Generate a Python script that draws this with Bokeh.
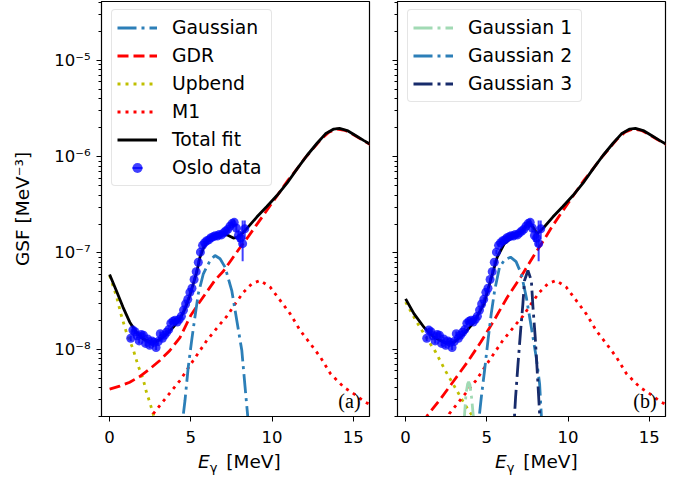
import numpy as np
from bokeh.plotting import figure
from bokeh.layouts import row, column
from bokeh.models import (ColumnDataSource, FixedTicker, CustomJSTickFormatter,
                          Legend, LegendItem, Label, Range1d, Div)
from bokeh.embed import file_html
from bokeh.resources import INLINE

# ---------------- data ----------------
OSLO_E = [1.30, 1.43, 1.56, 1.69, 1.82, 1.95, 2.08, 2.21, 2.34, 2.47, 2.60, 2.73,
          2.86, 2.99, 3.12, 3.25, 3.38, 3.51, 3.64, 3.77, 3.90, 4.03, 4.16, 4.29,
          4.42, 4.55, 4.68, 4.81, 4.94, 5.07, 5.20, 5.33, 5.46, 5.59, 5.72, 5.85,
          5.98, 6.11, 6.24, 6.37, 6.50, 6.63, 6.76, 6.89, 7.02, 7.15, 7.28, 7.41,
          7.54, 7.67, 7.80, 7.93, 8.06, 8.19, 8.32]
OSLO_GSF = [1.30e-8, 1.58e-8, 1.52e-8, 1.38e-8, 1.22e-8, 1.42e-8, 1.40e-8, 1.15e-8,
            1.28e-8, 1.10e-8, 1.22e-8, 1.18e-8, 1.04e-8, 1.20e-8, 1.45e-8, 1.30e-8,
            1.40e-8, 1.50e-8, 1.60e-8, 1.86e-8, 1.95e-8, 2.00e-8, 1.92e-8, 2.05e-8,
            2.20e-8, 2.55e-8, 2.95e-8, 3.30e-8, 3.90e-8, 4.30e-8, 5.30e-8, 6.40e-8,
            8.00e-8, 1.02e-7, 1.20e-7, 1.28e-7, 1.34e-7, 1.37e-7, 1.44e-7, 1.47e-7,
            1.51e-7, 1.50e-7, 1.56e-7, 1.54e-7, 1.62e-7, 1.69e-7, 1.76e-7, 1.90e-7,
            2.02e-7, 2.08e-7, 1.82e-7, 1.52e-7, 1.43e-7, 1.25e-7, 1.78e-7]
OSLO_ERR_LO = [0.08e-8, 0.09e-8, 0.09e-8, 0.08e-8, 0.07e-8, 0.08e-8, 0.08e-8, 0.07e-8,
               0.07e-8, 0.07e-8, 0.07e-8, 0.07e-8, 0.06e-8, 0.07e-8, 0.08e-8, 0.07e-8,
               0.08e-8, 0.08e-8, 0.09e-8, 0.10e-8, 0.10e-8, 0.11e-8, 0.10e-8, 0.11e-8,
               0.12e-8, 0.13e-8, 0.15e-8, 0.17e-8, 0.20e-8, 0.22e-8, 0.27e-8, 0.33e-8,
               0.41e-8, 0.52e-8, 0.62e-8, 0.66e-8, 0.70e-8, 0.72e-8, 0.76e-8, 0.78e-8,
               0.81e-8, 0.82e-8, 0.87e-8, 0.88e-8, 0.95e-8, 1.0e-8, 1.1e-8, 1.2e-8,
               1.4e-8, 1.6e-8, 1.8e-8, 2.2e-8, 2.6e-8, 4.3e-8, 4.0e-8]
OSLO_ERR_HI = [0.08e-8, 0.09e-8, 0.09e-8, 0.08e-8, 0.07e-8, 0.08e-8, 0.08e-8, 0.07e-8,
               0.07e-8, 0.07e-8, 0.07e-8, 0.07e-8, 0.06e-8, 0.07e-8, 0.08e-8, 0.07e-8,
               0.08e-8, 0.08e-8, 0.09e-8, 0.10e-8, 0.10e-8, 0.11e-8, 0.10e-8, 0.11e-8,
               0.12e-8, 0.13e-8, 0.15e-8, 0.17e-8, 0.20e-8, 0.22e-8, 0.27e-8, 0.33e-8,
               0.41e-8, 0.52e-8, 0.62e-8, 0.66e-8, 0.70e-8, 0.72e-8, 0.76e-8, 0.78e-8,
               0.81e-8, 0.82e-8, 0.87e-8, 0.88e-8, 0.95e-8, 1.0e-8, 1.1e-8, 1.2e-8,
               1.4e-8, 1.6e-8, 1.8e-8, 2.2e-8, 2.6e-8, 9.3e-8, 4.0e-8]

# panel (a) model components
TOTAL_A_E = [0.00, 0.41, 0.82, 1.24, 1.65, 2.06, 2.47, 2.80, 3.09, 3.50, 3.91, 4.33,
             4.64, 4.90, 5.15, 5.36, 5.56, 5.77, 6.08, 6.39, 6.70, 7.00, 7.31, 7.62,
             7.87, 8.14, 8.55, 9.06, 9.68, 10.30, 10.92, 11.54, 12.15, 12.77, 13.29,
             13.80, 14.15, 14.63, 15.14, 15.66, 16.10]
TOTAL_A = [5.97e-8, 4.07e-8, 2.74e-8, 1.91e-8, 1.50e-8, 1.28e-8, 1.20e-8, 1.19e-8,
           1.26e-8, 1.44e-8, 1.69e-8, 2.07e-8, 2.62e-8, 3.47e-8, 4.78e-8, 6.31e-8,
           9.03e-8, 1.12e-7, 1.37e-7, 1.49e-7, 1.57e-7, 1.58e-7, 1.52e-7, 1.43e-7,
           1.45e-7, 1.58e-7, 1.88e-7, 2.36e-7, 3.04e-7, 3.95e-7, 5.31e-7, 7.48e-7,
           1.03e-6, 1.38e-6, 1.73e-6, 1.94e-6, 1.97e-6, 1.87e-6, 1.66e-6, 1.47e-6,
           1.33e-6]
GDR_A_E = [0.0, 0.62, 1.24, 1.85, 2.47, 3.09, 3.71, 4.33, 5.0, 5.5, 6.0, 6.5, 7.0,
           7.5, 8.0, 8.5, 9.0, 9.5, 10.0, 10.5, 11.0, 11.5, 12.0, 12.5, 13.0, 13.5,
           14.0, 14.5, 15.0, 15.5, 16.1]
GDR_A = [3.85e-9, 4.13e-9, 4.54e-9, 5.20e-9, 6.25e-9, 7.64e-9, 9.70e-9, 1.32e-8,
         2.25e-8, 3.02e-8, 3.98e-8, 5.25e-8, 6.46e-8, 8.51e-8, 1.12e-7, 1.45e-7,
         1.91e-7, 2.51e-7, 3.31e-7, 4.37e-7, 5.75e-7, 7.33e-7, 9.55e-7, 1.20e-6,
         1.51e-6, 1.80e-6, 1.94e-6, 1.88e-6, 1.70e-6, 1.51e-6, 1.32e-6]
UPBEND_A_E = [0.00, 0.41, 0.72, 1.03, 1.44, 1.75, 2.06, 2.27, 2.47, 2.68, 2.85]
UPBEND_A = [5.83e-8, 3.61e-8, 2.24e-8, 1.50e-8, 1.01e-8, 6.78e-9, 4.92e-9, 3.57e-9,
            2.81e-9, 2.13e-9, 1.66e-9]
GAUSS_A_E = [4.40, 4.53, 4.64, 4.84, 5.05, 5.25, 5.46, 5.77, 6.18, 6.49, 6.80, 7.11,
             7.52, 7.83, 8.14, 8.34, 8.49, 8.60]
GAUSS_A = [1.0e-9, 2.05e-9, 2.93e-9, 6.50e-9, 1.23e-8, 2.15e-8, 3.77e-8, 6.08e-8,
           8.32e-8, 9.42e-8, 8.71e-8, 7.11e-8, 4.07e-8, 1.99e-8, 9.68e-9, 4.03e-9,
           2.13e-9, 1.26e-9]
M1_E = [2.50, 2.68, 3.09, 3.50, 4.33, 5.15, 5.98, 6.80, 7.21, 7.73, 8.24, 8.76, 9.27,
        9.89, 10.51, 11.12, 11.74, 12.36, 12.98, 13.60, 14.42, 15.04, 15.76, 16.10]
M1 = [1.78e-9, 2.13e-9, 2.60e-9, 3.17e-9, 4.73e-9, 7.64e-9, 1.23e-8, 1.82e-8, 2.19e-8,
      2.96e-8, 3.91e-8, 4.79e-8, 5.18e-8, 4.41e-8, 3.20e-8, 2.33e-8, 1.56e-8, 1.14e-8,
      8.26e-9, 5.55e-9, 4.03e-9, 3.44e-9, 2.81e-9, 2.63e-9]

# panel (b) model components
TOTAL_B_E = [0.00, 0.52, 1.13, 1.75, 2.36, 2.98, 3.59, 3.90, 4.21, 4.82, 5.23, 5.64,
             6.06, 6.57, 7.08, 7.35, 7.59, 7.86, 8.10, 8.52, 9.06, 9.68, 10.30, 10.92,
             11.54, 12.15, 12.77, 13.29, 13.80, 14.15, 14.63, 15.14, 15.66, 16.10]
TOTAL_B = [3.34e-8, 2.33e-8, 1.69e-8, 1.33e-8, 1.18e-8, 1.18e-8, 1.45e-8, 1.66e-8,
           1.91e-8, 2.96e-8, 5.18e-8, 9.04e-8, 1.24e-7, 1.46e-7, 1.64e-7, 1.86e-7,
           2.09e-7, 1.84e-7, 1.58e-7, 1.85e-7, 2.36e-7, 3.04e-7, 3.95e-7, 5.31e-7,
           7.48e-7, 1.03e-6, 1.38e-6, 1.73e-6, 1.94e-6, 1.97e-6, 1.87e-6, 1.66e-6,
           1.47e-6, 1.33e-6]
GDR_B_E = [1.00, 1.34, 2.15, 2.98, 3.80, 4.62, 5.44, 6.26, 7.08, 7.90, 8.62, 9.0, 9.5,
           10.0, 10.5, 11.0, 11.5, 12.0, 12.5, 13.0, 13.5, 14.0, 14.5, 15.0, 15.5, 16.1]
GDR_B = [1.70e-9, 2.05e-9, 3.05e-9, 4.73e-9, 7.33e-9, 1.18e-8, 1.99e-8, 3.47e-8,
         5.60e-8, 9.42e-8, 1.46e-7, 1.86e-7, 2.48e-7, 3.29e-7, 4.35e-7, 5.75e-7,
         7.33e-7, 9.55e-7, 1.20e-6, 1.51e-6, 1.80e-6, 1.94e-6, 1.88e-6, 1.70e-6,
         1.51e-6, 1.32e-6]
UPBEND_B_E = [0.00, 0.62, 1.24, 1.85, 2.47, 3.09, 3.63, 3.90, 4.14, 4.40]
UPBEND_B = [3.09e-8, 2.00e-8, 1.35e-8, 9.33e-9, 5.89e-9, 3.89e-9, 2.69e-9, 2.29e-9,
            2.00e-9, 1.66e-9]
GAUSS1_B_E = [3.50, 3.62, 3.72, 3.82, 3.88, 3.96, 4.06, 4.17, 4.28]
GAUSS1_B = [7.9e-10, 2.0e-9, 3.47e-9, 4.37e-9, 4.57e-9, 4.27e-9, 3.16e-9, 2.0e-9, 8.9e-10]
GAUSS2_B_E = [4.40, 4.55, 4.66, 4.86, 5.07, 5.27, 5.48, 5.78, 6.10, 6.46, 6.80, 7.12,
              7.43, 7.74, 8.04, 8.25, 8.35, 8.45]
GAUSS2_B = [1.0e-9, 2.13e-9, 3.17e-9, 6.01e-9, 1.23e-8, 2.33e-8, 4.07e-8, 7.11e-8,
            8.51e-8, 9.04e-8, 8.13e-8, 6.08e-8, 3.47e-8, 1.69e-8, 8.26e-9, 4.37e-9,
            2.13e-9, 1.0e-9]
GAUSS3_B_E = [6.65, 6.71, 6.77, 6.92, 7.08, 7.22, 7.32, 7.53, 7.74, 7.84, 7.98, 8.10,
              8.25, 8.32]
GAUSS3_B = [1.12e-9, 2.13e-9, 3.17e-9, 7.05e-9, 1.56e-8, 2.96e-8, 5.18e-8, 6.58e-8,
            5.18e-8, 2.73e-8, 1.33e-8, 6.01e-9, 2.13e-9, 1.12e-9]

X_TICKS = [0, 5, 10, 15]
Y_MAJOR = [1e-9, 1e-8, 1e-7, 1e-6, 1e-5, 1e-4]
Y_MINOR = [m * d for d in [1e-9, 1e-8, 1e-7, 1e-6, 1e-5] for m in range(2, 10)]

# ---------------- styling ----------------
FONT = "DejaVu Sans"
FW, FH = 268, 415
X_LO, X_HI = -0.5, 16.0
Y_LO, Y_HI = 2.0e-9, 4.10e-5
LW = 2.8

sup_js = """
const sup = {"-":"\u207b","0":"\u2070","1":"\u00b9","2":"\u00b2","3":"\u00b3","4":"\u2074",
             "5":"\u2075","6":"\u2076","7":"\u2077","8":"\u2078","9":"\u2079"};
const e = Math.round(Math.log10(tick));
return "10" + String(e).split("").map(c => sup[c]).join("");
"""


def make_fig(border_left, border_right, labels):
    p = figure(frame_width=FW, frame_height=FH, y_axis_type="log",
               x_range=Range1d(X_LO, X_HI), y_range=Range1d(Y_LO, Y_HI),
               output_backend="svg", toolbar_location=None,
               min_border_left=border_left, min_border_right=border_right,
               min_border_top=1, min_border_bottom=34)
    p.grid.visible = False
    p.outline_line_color = "black"
    p.outline_line_width = 1.2
    p.outline_line_alpha = 1.0
    p.background_fill_color = "white"
    p.border_fill_color = "white"

    xa = p.xaxis[0]
    xa.ticker = FixedTicker(ticks=X_TICKS)
    xa.major_tick_out = 5
    xa.major_tick_in = 0
    xa.minor_tick_line_color = None
    xa.major_label_text_font = FONT
    xa.major_label_text_font_size = "16.5px"
    xa.major_label_text_color = "black"
    xa.major_label_standoff = 9
    xa.axis_line_color = "black"
    xa.major_tick_line_color = "black"

    ya = p.yaxis[0]
    ya.ticker = FixedTicker(ticks=Y_MAJOR, minor_ticks=Y_MINOR)
    ya.major_tick_out = 5
    ya.major_tick_in = 0
    ya.minor_tick_out = 3
    ya.minor_tick_in = 0
    ya.major_tick_line_color = "black"
    ya.minor_tick_line_color = "black"
    ya.axis_line_color = "black"
    ya.major_label_text_font = FONT
    ya.major_label_text_font_size = "16.5px"
    ya.major_label_text_color = "black"
    ya.major_label_standoff = 6
    if labels:
        ya.formatter = CustomJSTickFormatter(code=sup_js)
        ya.axis_label = "GSF [MeV\u207b\u00b3]"
        ya.axis_label_text_font = FONT
        ya.axis_label_text_font_size = "18.5px"
        ya.axis_label_text_font_style = "normal"
        ya.axis_label_text_color = "black"
        ya.axis_label_standoff = 18
    else:
        ya.formatter = CustomJSTickFormatter(code='return "";')
        ya.major_label_standoff = 0
    return p


def add_data(p):
    src = ColumnDataSource(dict(
        x=OSLO_E, y=OSLO_GSF,
        lo=[v - e for v, e in zip(OSLO_GSF, OSLO_ERR_LO)],
        hi=[v + e for v, e in zip(OSLO_GSF, OSLO_ERR_HI)]))
    p.segment(x0="x", y0="lo", x1="x", y1="hi", source=src,
              line_color="blue", line_alpha=0.75, line_width=2)
    r = p.scatter("x", "y", source=src, marker="circle", size=9,
                  fill_color="blue", fill_alpha=0.75, line_color=None)
    # zero-size vertical dash: only its legend glyph (the error-bar symbol) shows
    bar = p.scatter("x", "y", source=src, marker="dash", angle=np.pi / 2, size=0,
                    line_color="blue", line_alpha=0.75, line_width=2)
    return [bar, r]


def make_legend(items, loc, label_width):
    leg = Legend(items=items, location=loc)
    leg.label_text_font = FONT
    leg.label_text_font_size = "18.8px"
    leg.label_text_color = "black"
    leg.glyph_width = 40
    leg.glyph_height = 25
    leg.label_height = 25
    leg.label_width = label_width
    leg.label_standoff = 15
    leg.padding = 5
    leg.spacing = 3
    leg.margin = 0
    leg.border_line_color = "#cccccc"
    leg.border_line_width = 1
    leg.background_fill_color = "white"
    leg.background_fill_alpha = 0.8
    if "border_radius" in Legend.properties():
        leg.border_radius = 4
    return leg


# ---------------- panel (a) ----------------
p1 = make_fig(101, 5, True)
r_up = p1.line(UPBEND_A_E, UPBEND_A, line_color="#bfbf00", line_width=LW, line_dash="3 5")
r_m1 = p1.line(M1_E, M1, line_color="red", line_width=LW, line_dash="3 5")
r_gdr = p1.line(GDR_A_E, GDR_A, line_color="red", line_width=LW, line_dash="11 5")
r_g = p1.line(GAUSS_A_E, GAUSS_A, line_color="#2c7fb8", line_width=LW, line_dash="19 5 3 5")
r_tot = p1.line(TOTAL_A_E, TOTAL_A, line_color="black", line_width=LW)
r_dat = add_data(p1)
p1.add_layout(make_legend([
    LegendItem(label="Gaussian", renderers=[r_g]),
    LegendItem(label="GDR", renderers=[r_gdr]),
    LegendItem(label="Upbend", renderers=[r_up]),
    LegendItem(label="M1", renderers=[r_m1]),
    LegendItem(label="Total fit", renderers=[r_tot]),
    LegendItem(label="Oslo data", renderers=r_dat),
], (10, 230), 94))
p1.add_layout(Label(x=15.45, y=2.93e-9, text="(a)", text_font="Liberation Serif",
                    text_font_size="20px", text_align="right",
                    text_baseline="alphabetic", text_color="black"))

# ---------------- panel (b) ----------------
p2 = make_fig(23, 10, False)
p2.line(UPBEND_B_E, UPBEND_B, line_color="#bfbf00", line_width=LW, line_dash="3 5")
p2.line(M1_E, M1, line_color="red", line_width=LW, line_dash="3 5")
p2.line(GDR_B_E, GDR_B, line_color="red", line_width=LW, line_dash="11 5")
g1 = p2.line(GAUSS1_B_E, GAUSS1_B, line_color="#a1dab4", line_width=LW, line_dash="19 5 3 5")
g2 = p2.line(GAUSS2_B_E, GAUSS2_B, line_color="#2c7fb8", line_width=LW, line_dash="19 5 3 5")
g3 = p2.line(GAUSS3_B_E, GAUSS3_B, line_color="#172b6b", line_width=LW, line_dash="19 5 3 5")
p2.line(TOTAL_B_E, TOTAL_B, line_color="black", line_width=LW)
add_data(p2)
p2.add_layout(make_legend([
    LegendItem(label="Gaussian 1", renderers=[g1]),
    LegendItem(label="Gaussian 2", renderers=[g2]),
    LegendItem(label="Gaussian 3", renderers=[g3]),
], (10, 314), 108))
p2.add_layout(Label(x=15.45, y=2.93e-9, text="(b)", text_font="Liberation Serif",
                    text_font_size="20px", text_align="right",
                    text_baseline="alphabetic", text_color="black"))

# ---------------- x-axis titles (italic E with subscript gamma) ----------------
span_css = ("position:absolute;top:-2px;white-space:nowrap;font-family:'DejaVu Sans';"
            "font-size:18.5px;line-height:18.5px;color:black;")
sub_css = "font-size:13px;vertical-align:-4px;line-height:0;margin-right:3px;"
title_html = "<i>E</i><sub style=\"" + sub_css + "\">\u03b3</sub> [MeV]"
xlabels = Div(
    text=("<div style=\"position:relative;width:674px;height:30px;\">"
          "<span style=\"" + span_css + "left:193px;\">" + title_html + "</span>"
          "<span style=\"" + span_css + "left:490px;\">" + title_html + "</span>"
          "</div>"),
    width=674, height=30)

layout = column(row(p1, p2), xlabels)
open("out.html", "w").write(file_html(layout, INLINE))
